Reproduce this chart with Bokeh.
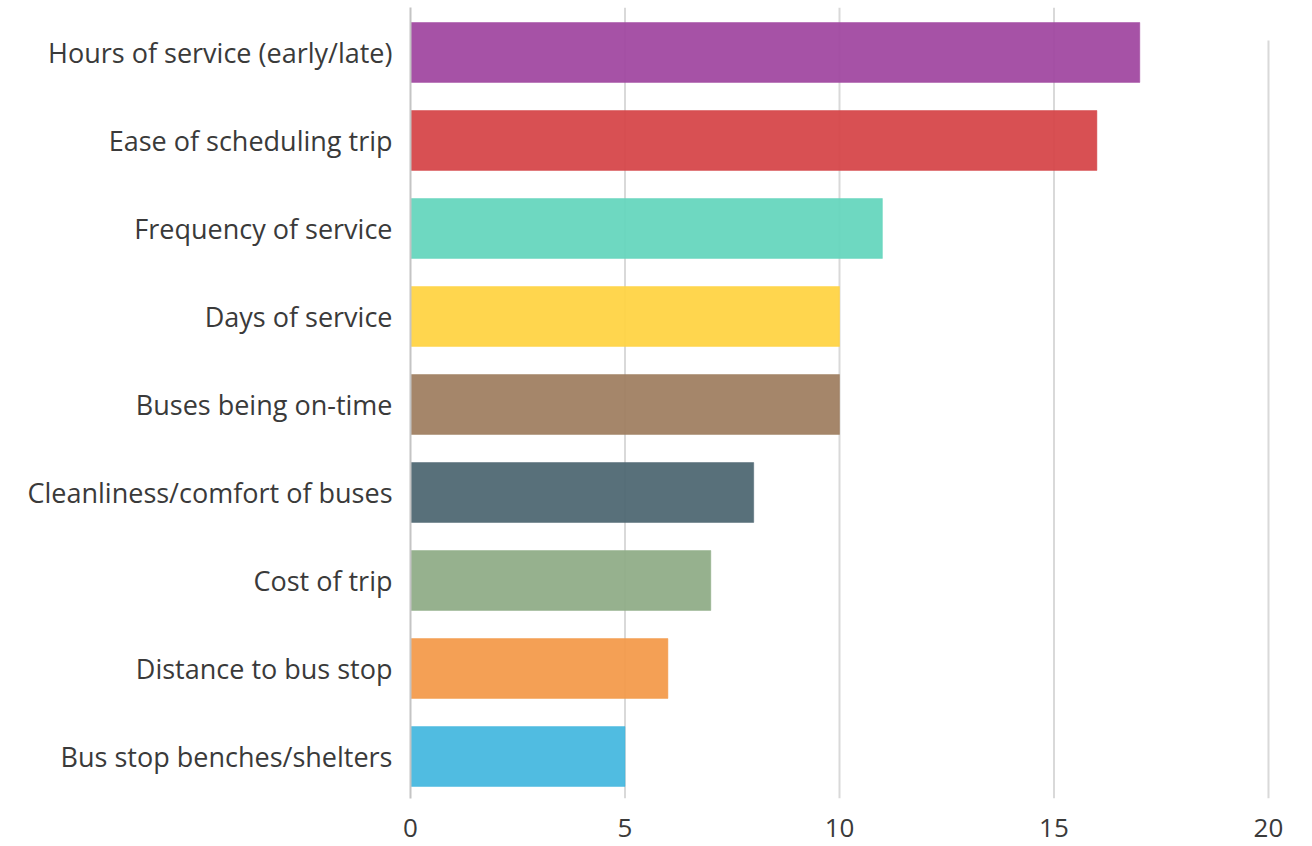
from bokeh.plotting import figure
from bokeh.models import Range1d, FixedTicker
from bokeh.embed import file_html
from bokeh.resources import INLINE

categories = ["Hours of service (early/late)", "Ease of scheduling trip", "Frequency of service",
              "Days of service", "Buses being on-time", "Cleanliness/comfort of buses",
              "Cost of trip", "Distance to bus stop", "Bus stop benches/shelters"]
values = [17, 16, 11, 10, 10, 8, 7, 6, 5]
colors = ["#A149A1", "#D6474A", "#66D6BE", "#FFD444", "#A07F62", "#4F6873",
          "#90AD88", "#F39B4C", "#47B8DF"]
x_ticks = [0, 5, 10, 15, 20]

idx = list(range(len(categories)))

p = figure(width=1312, height=846, output_backend="svg", toolbar_location=None,
           x_range=Range1d(0, 20.28), y_range=Range1d(8.477, -0.511),
           min_border_left=410, min_border_right=32, min_border_top=7, min_border_bottom=48)
p.outline_line_color = None
p.grid.visible = False

# grid lines
grid_x = x_ticks[1:]
grid_top = [-0.511, -0.511, -0.511, -0.136]
p.segment(x0=grid_x, x1=grid_x, y0=grid_top, y1=[8.477] * len(grid_x),
          line_color="#d9d9d9", line_width=2)

p.hbar(y=idx, right=values, left=0, height=0.68, fill_color=colors, fill_alpha=0.95,
       line_color=colors, line_alpha=0.5, line_width=1)

# y axis
ya = p.yaxis[0]
ya.ticker = FixedTicker(ticks=idx)
ya.major_label_overrides = {i: c for i, c in enumerate(categories)}
ya.major_tick_line_color = None
ya.minor_tick_line_color = None
ya.axis_line_color = "#c4c4c4"
ya.axis_line_width = 2
ya.major_label_standoff = 12
ya.major_label_text_font = "Open Sans"
ya.major_label_text_font_size = "27px"
ya.major_label_text_color = "#3a3a3a"

xa = p.xaxis[0]
xa.ticker = FixedTicker(ticks=x_ticks)
xa.major_tick_line_color = None
xa.minor_tick_line_color = None
xa.axis_line_color = None
xa.major_label_standoff = 14
xa.major_label_text_font = "Open Sans"
xa.major_label_text_font_size = "26px"
xa.major_label_text_color = "#3a3a3a"

open("out.html", "w").write(file_html(p, INLINE))
